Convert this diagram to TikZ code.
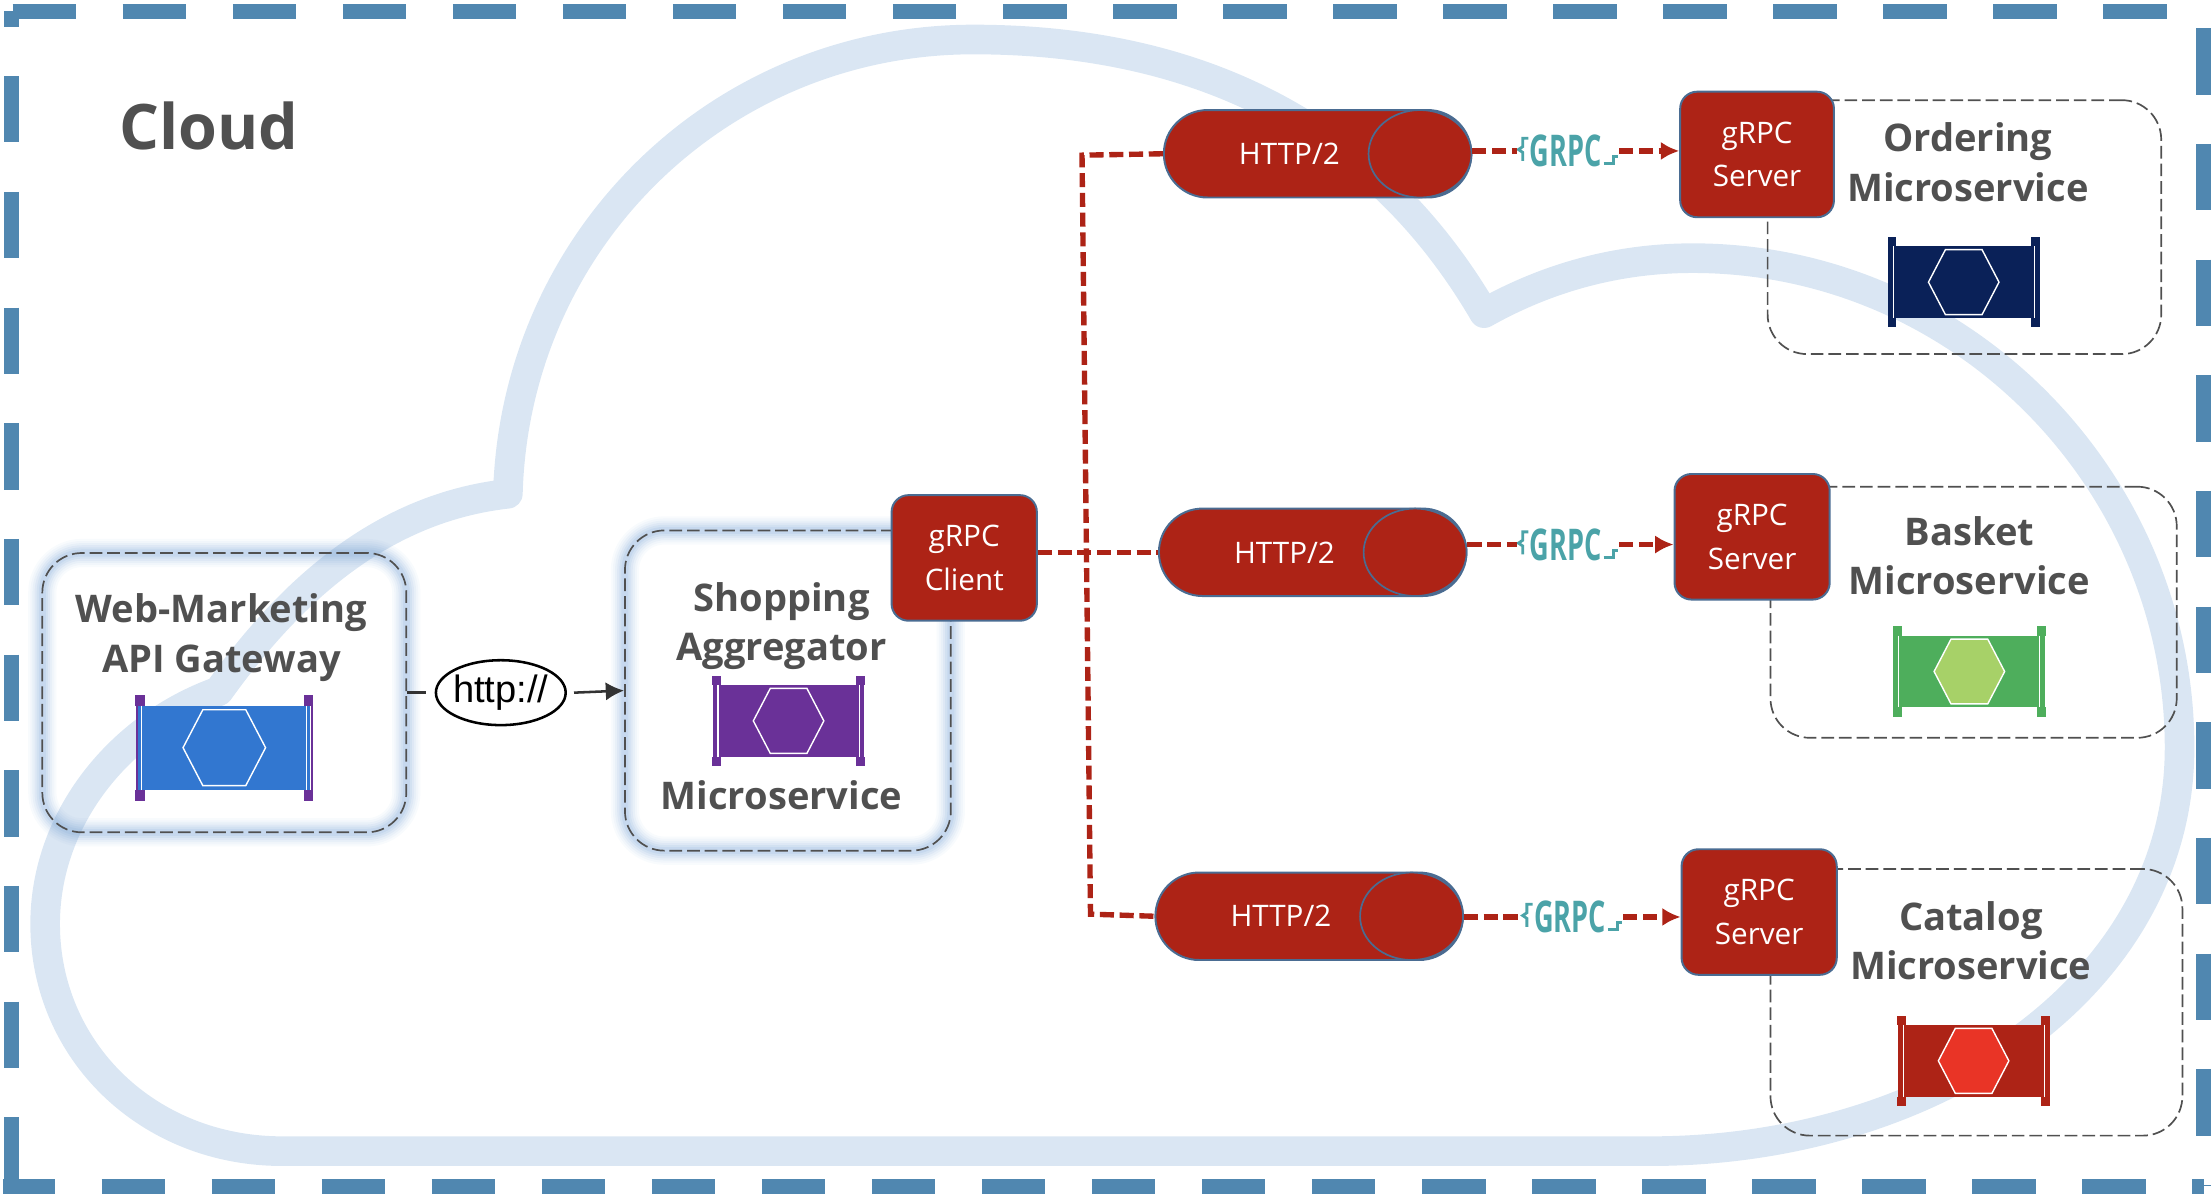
\documentclass[tikz,border=0pt]{standalone}
\usepackage{fontspec}
\setmainfont{Open Sans}
\newfontfamily\httpfont{Liberation Sans}
\usetikzlibrary{calc,arrows.meta,shapes.geometric,shapes.misc}
\definecolor{framecol}{HTML}{5087B0}
\definecolor{cloudcol}{HTML}{DAE6F3}
\definecolor{glowcol}{HTML}{7FA8D8}
\definecolor{rpcred}{HTML}{AD2316}
\definecolor{edgecol}{HTML}{4A6C92}
\definecolor{labelcol}{HTML}{505050}
\definecolor{logocol}{HTML}{4BA3A8}
\definecolor{webblue}{HTML}{3277D0}
\definecolor{shoppurple}{HTML}{6A3198}
\definecolor{ordernavy}{HTML}{0A2158}
\definecolor{basketgreen}{HTML}{4EAE5C}
\definecolor{baskethex}{HTML}{A7D168}
\definecolor{cataloghex}{HTML}{E93426}
\newcommand{\Service}[5]{
    \begin{scope}[shift={#1},scale=#5]
        \fill[#2] (-52,-25.5) rectangle (52,25.5);
        \draw[#4,line width=1.6] (-53,-31) -- (-53,31);
        \draw[#4,line width=1.6] (53,-31) -- (53,31);
        \fill[#4] (-54,-32) rectangle (-48,-25.5);
        \fill[#4] (48,-32) rectangle (54,-25.5);
        \fill[#4] (-54,32) rectangle (-48,25.5);
        \fill[#4] (48,32) rectangle (54,25.5);
        \draw[white,line width=.8] (-50,-25.5) -- (-50,25.5);
        \draw[white,line width=.8] (50,-25.5) -- (50,25.5);
        \filldraw[draw=white,line width=1,fill=#3] (-25,0) -- (-13,-23) -- (13,-23) -- (25,0) -- (13,23) -- (-13,23) -- cycle;
    \end{scope}
}
\tikzset{
    frameline/.style={draw=framecol,line width=11,dash pattern=on 45 off 33},
    frameside/.style={draw=framecol,line width=11,dash pattern=on 47 off 35},
    cloudline/.style={draw=cloudcol,line width=21,line join=round},
    dashbox/.style={draw=labelcol,line width=1.2,dash pattern=on 9 off 3.5,rounded corners=28,inner sep=0},
    glowbox/.style={dashbox,
        preaction={draw=glowcol,solid,line width=20,draw opacity=.05},
        preaction={draw=glowcol,solid,line width=17,draw opacity=.06},
        preaction={draw=glowcol,solid,line width=14,draw opacity=.08},
        preaction={draw=glowcol,solid,line width=11,draw opacity=.10},
        preaction={draw=glowcol,solid,line width=8,draw opacity=.12},
        preaction={draw=glowcol,solid,line width=5,draw opacity=.15}},
    rpcbox/.style={draw=edgecol,line width=1.4,fill=rpcred,rounded corners=12,text=white,align=center,
        font=\fontsize{21}{31}\selectfont,inner sep=0},
    httpbody/.style={shape=rounded rectangle,draw=edgecol,line width=1.4,fill=rpcred,
        minimum width=218,minimum height=62,inner sep=0},
    httpcap/.style={shape=ellipse,draw=edgecol,line width=1.2,fill=rpcred,
        minimum width=73,minimum height=62,inner sep=0},
    httptext/.style={text=white,inner sep=0,font=\fontsize{21}{25}\selectfont},
    boxlabel/.style={text=labelcol,align=center,font=\fontsize{27}{35}\selectfont\bfseries},
    logo/.style={text=logocol,inner sep=0,font=\fontsize{31}{32}\selectfont\bfseries},
    logohook/.style={draw=logocol,line width=2},
    rpcline/.style={draw=rpcred,line width=3.8,dash pattern=on 10 off 4},
    httpline/.style={draw=black!80,line width=1.8}
}

\begin{document}
\begin{tikzpicture}[x=1pt,y=-1pt,>={Latex[length=13,width=13]}]
    \useasboundingbox (0,0) rectangle (1568,848);

    % cloud outline and outer frame
    \draw[cloudline] (200,816) -- (1170,816)
        .. controls (1370,816) and (1545,700) .. (1545,530)
        .. controls (1545,340) and (1390,183) .. (1200,183)
        .. controls (1150,183) and (1100,195) .. (1052,222)
        .. controls (975,90) and (850,28) .. (690,28)
        .. controls (510,28) and (365,170) .. (360,350)
        .. controls (270,360) and (205,420) .. (155,490)
        .. controls (85,515) and (32,580) .. (32,655)
        .. controls (32,745) and (105,816) .. (200,816) -- cycle;
    \coordinate (tl) at (8,8);
    \coordinate (tr) at (1562,8);
    \coordinate (bl) at (8,841);
    \coordinate (br) at (1562,841);
    \draw[frameline] ([xshift=1]tl) -- (tr);
    \draw[frameline,dash phase=8] ([xshift=-6]bl) -- (br);
    \draw[frameside,dash phase=-46] (tl) -- (bl);
    \draw[frameside,dash phase=-12] (tr) -- (br);

    \draw(148,89) node (cloudtitle) [text=labelcol,font=\fontsize{44.5}{50}\selectfont\bfseries] {Cloud};

    % left side
    \draw(159,491) node (web) [glowbox,minimum width=258,minimum height=198] {};
    \draw(157,452) node (weblabel) [boxlabel] {Web-Marketing\\API Gateway};
    \Service{(159,530)}{webblue}{webblue}{shoppurple}{1.17}
    \draw(558.5,489.5) node (shop) [glowbox,minimum width=231,minimum height=227] {};
    \draw(554,444) node (shoplabel) [boxlabel] {Shopping\\Aggregator};
    \draw(554,564) node (shopname) [boxlabel] {Microservice};
    \Service{(559,511)}{shoppurple}{shoppurple}{shoppurple}{1}
    \draw(355,491) node (http) [ellipse,draw=black,line width=1.8,fill=white,minimum width=92,minimum height=46,inner sep=0,
        font=\fontsize{27}{30}\httpfont] {\makebox[30pt]{http://}};
    \draw[httpline] (web.east) -- ([xshift=-6]http.west);
    \draw[httpline,->] ([xshift=5]http.east) -- (shop.west);
    \draw(683.5,395.5) node (client) [rpcbox,minimum width=103,minimum height=89] {gRPC\\Client};

    % microservice boxes
    \draw(1392.5,161) node (ordering) [dashbox,minimum width=279,minimum height=180] {};
    \draw(1399,434) node (basket) [dashbox,minimum width=288,minimum height=178] {};
    \draw(1401,710.5) node (catalog) [dashbox,minimum width=292,minimum height=189] {};
    \draw(1395,115) node (orderinglabel) [boxlabel] {Ordering\\Microservice};
    \draw(1396,394) node (basketlabel) [boxlabel] {Basket\\Microservice};
    \draw(1397,667) node (cataloglabel) [boxlabel] {Catalog\\Microservice};
    \Service{(1392,200)}{ordernavy}{ordernavy}{ordernavy}{1}
    \Service{(1396,476)}{basketgreen}{baskethex}{basketgreen}{1}
    \Service{(1399,752)}{rpcred}{cataloghex}{rpcred}{1}
    \draw(1245.5,109.5) node (serverA) [rpcbox,minimum width=109,minimum height=89] {gRPC\\Server};
    \draw(1242,380.5) node (serverB) [rpcbox,minimum width=110,minimum height=89] {gRPC\\Server};
    \draw(1247,646.5) node (serverC) [rpcbox,minimum width=110,minimum height=89] {gRPC\\Server};

    % HTTP/2 channels
    \draw(934,109) node (httpA) [httpbody] {};
    \draw(930.5,391.5) node (httpB) [httpbody] {};
    \draw(928,649.5) node (httpC) [httpbody] {};
    \foreach \n in {httpA,httpB,httpC}{
        \node (\n cap) at (\n.east) [httpcap,anchor=east] {};
        \node (\n text) at ([xshift=-20]\n.center) [httptext] {HTTP/2};
    }
    \draw(1110,107) node (grpcA) [logo] {\scalebox{.62}[1]{GRPC}};
    \draw(1110,386) node (grpcB) [logo] {\scalebox{.62}[1]{GRPC}};
    \draw(1113,650) node (grpcC) [logo] {\scalebox{.62}[1]{GRPC}};
    \foreach \g in {grpcA,grpcB,grpcC}{
        \draw[logohook] ([xshift=-1,yshift=9]\g.west) -- ++(-4,0) -- ++(0,6) -- ++(-3,2) -- ++(3,2) -- ++(0,6);
        \draw[logohook] ([xshift=1,yshift=-9]\g.east) -- ++(7,0) -- ++(0,-5) -- ++(3,0);
    }

    \coordinate (branchtop) at (767,110);
    \coordinate (branchbot) at (773,648);
    \draw[rpcline] (httpA.west) -- (branchtop) -- (branchbot) -- (httpC.west);
    \draw[rpcline] (client.east |- httpB.west) -- (httpB.west);
    \foreach \n/\g/\s in {httpA/grpcA/serverA,httpB/grpcB/serverB,httpC/grpcC/serverC}{
        \draw[rpcline] (\n.east |- \g.west) -- ([xshift=-9]\g.west);
        \draw[rpcline,->] ([xshift=12]\g.east) -- (\g.east -| \s.west);
    }
\end{tikzpicture}
\end{document}
